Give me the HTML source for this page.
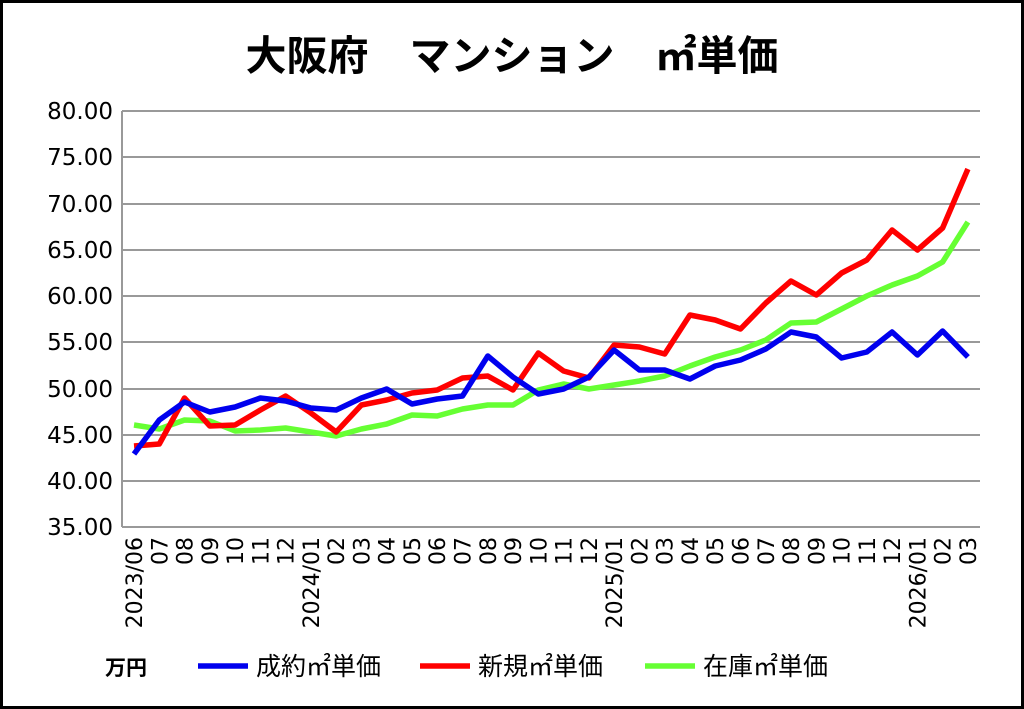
<!DOCTYPE html><html><head><meta charset="utf-8"><style>body{margin:0;background:#fff}svg{display:block}</style></head><body>
<svg width="1024" height="709" xmlns="http://www.w3.org/2000/svg" font-family="DejaVu Sans, Noto Sans CJK JP, sans-serif">
<rect x="1.5" y="1.5" width="1021" height="706" fill="#fff" stroke="#000" stroke-width="3"/>
<text x="512" y="70" text-anchor="middle" font-size="41" font-weight="bold" font-family="Noto Sans CJK JP, sans-serif">大阪府　マンション　㎡単価</text>
<g stroke="#999" stroke-width="2">
<line x1="122" y1="111" x2="980" y2="111"/><line x1="122" y1="157" x2="980" y2="157"/><line x1="122" y1="204" x2="980" y2="204"/><line x1="122" y1="250" x2="980" y2="250"/><line x1="122" y1="296" x2="980" y2="296"/><line x1="122" y1="342" x2="980" y2="342"/><line x1="122" y1="389" x2="980" y2="389"/><line x1="122" y1="435" x2="980" y2="435"/><line x1="122" y1="481" x2="980" y2="481"/><line x1="122" y1="527" x2="980" y2="527"/>
<line x1="122" y1="111" x2="122" y2="527"/>
</g>
<g font-size="23" text-anchor="end">
<text x="113" y="119">80.00</text><text x="113" y="165">75.00</text><text x="113" y="212">70.00</text><text x="113" y="258">65.00</text><text x="113" y="304">60.00</text><text x="113" y="350">55.00</text><text x="113" y="397">50.00</text><text x="113" y="443">45.00</text><text x="113" y="489">40.00</text><text x="113" y="535">35.00</text>
</g>
<g id="xl" font-size="22" text-anchor="end"></g>
<polyline id="g" fill="none" stroke="#66ff33" stroke-width="5.5" stroke-linejoin="round"/>
<polyline id="r" fill="none" stroke="#ff0000" stroke-width="5.5" stroke-linejoin="round"/>
<polyline id="b" fill="none" stroke="#0000ee" stroke-width="5.5" stroke-linejoin="round"/>
<g font-size="25" font-family="Noto Sans CJK JP, sans-serif">
<text x="105" y="675" font-weight="bold" font-size="21">万円</text>
<line x1="198" y1="666" x2="248" y2="666" stroke="#0000ee" stroke-width="5.5"/><text x="256" y="675">成約㎡単価</text>
<line x1="420" y1="666" x2="470" y2="666" stroke="#ff0000" stroke-width="5.5"/><text x="478" y="675">新規㎡単価</text>
<line x1="645" y1="666" x2="695" y2="666" stroke="#66ff33" stroke-width="5.5"/><text x="703" y="675">在庫㎡単価</text>
</g>
</svg>
<script>
const B=[454,420,402,412,407,398,401,408,410,398,389,404,399,396,356,377,394,389,377,350,370,370,379,366,360,349,332,337,358,352,332,355,331,357];
const R=[446,444,398,426,425,410,396,413,432,405,400,393,390,378,376,390,353,371,378,345,347,354,315,320,329,303,281,295,273,260,230,250,228,169];
const G=[425,429,420,421,431,430,428,432,436,429,424,415,416,409,405,405,390,384,389,385,381,376,366,357,350,340,323,322,309,296,285,276,262,222];
const X=i=>134+i*25.27;
const p=a=>a.map((y,i)=>X(i).toFixed(1)+","+y).join(" ");
document.getElementById('b').setAttribute('points',p(B));
document.getElementById('r').setAttribute('points',p(R));
document.getElementById('g').setAttribute('points',p(G));
const L=['2023/06','07','08','09','10','11','12','2024/01','02','03','04','05','06','07','08','09','10','11','12','2025/01','02','03','04','05','06','07','08','09','10','11','12','2026/01','02','03'];
let s='';L.forEach((t,i)=>{const x=X(i)+8;s+=`<text transform="translate(${x.toFixed(1)},537) rotate(-90)">${t}</text>`});
document.getElementById('xl').innerHTML=s;
</script>
</body></html>
